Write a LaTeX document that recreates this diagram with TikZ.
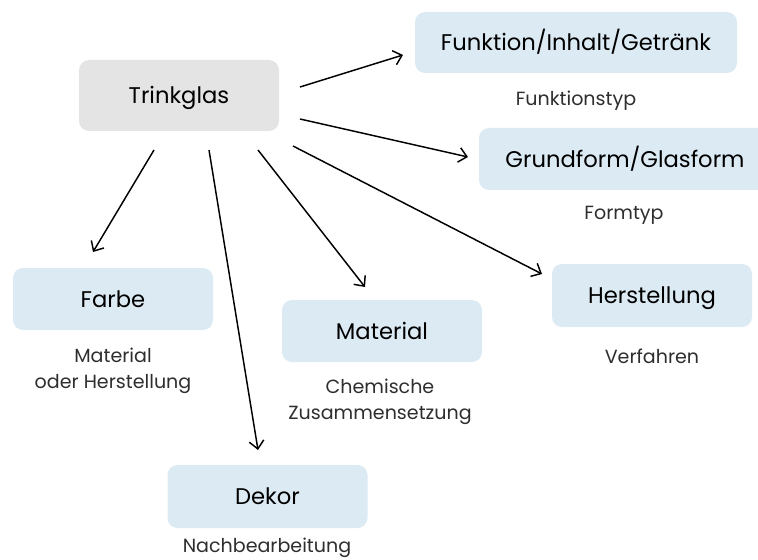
\documentclass[tikz,border=0pt]{standalone}
\usepackage{fontspec}
\setmainfont{Poppins}
\usetikzlibrary{arrows.meta}
\definecolor{boxblue}{HTML}{DCEAF3}
\definecolor{boxgray}{HTML}{E4E4E4}
\definecolor{subtext}{HTML}{2E2E2E}
\tikzset{
  basebox/.style={rounded corners=7.5pt, inner sep=0pt, font=\fontsize{17}{20}\selectfont, text=black, text height=1.2em, text depth=0pt},
  bluebox/.style={basebox, fill=boxblue},
  graybox/.style={basebox, fill=boxgray},
  sublabel/.style={align=center, inner sep=0pt, font=\fontsize{14.3}{19.5}\selectfont, text=subtext},
  conn/.style={line width=1.1pt, -{Straight Barb[length=6pt, width=11pt, line width=1.1pt]}}
}
\begin{document}
\begin{tikzpicture}[x=0.75pt, y=-0.75pt]
\useasboundingbox (0,0) rectangle (758,560);
\clip (0,0) rectangle (758,560);
% boxes
\node[graybox, minimum width=150pt, minimum height=53.25pt] (trink) at (179,95.5) {Trinkglas};
\node[bluebox, minimum width=241.5pt, minimum height=45.75pt] (funk) at (576,42.5) {Funktion/Inhalt/Getränk};
\node[bluebox, minimum width=219pt, minimum height=46.5pt] (grund) at (625,159) {Grundform/Glasform};
\node[bluebox, minimum width=150pt, minimum height=46.5pt] (farbe) at (113,299) {Farbe};
\node[bluebox, minimum width=150pt, minimum height=47.25pt] (herst) at (652,295.5) {Herstellung};
\node[bluebox, minimum width=150pt, minimum height=46.5pt] (mat) at (382,331) {Material};
\node[bluebox, minimum width=150pt, minimum height=47.25pt] (dekor) at (267.5,496.5) {Dekor};
% labels
\node[sublabel] (funkl) at (576,101) {Funktionstyp};
\node[sublabel] (grundl) at (624,215) {Formtyp};
\node[sublabel] (farbel) at (113,371) {Material\\oder Herstellung};
\node[sublabel] (matl) at (380,402) {Chemische\\Zusammensetzung};
\node[sublabel] (herstl) at (652,356) {Verfahren};
\node[sublabel] (dekorl) at (267,548) {Nachbearbeitung};
% connector ends
\coordinate (s1) at (300,87);  \coordinate (e1) at (403,55);
\coordinate (s2) at (300,119); \coordinate (e2) at (468,157);
\coordinate (s3) at (154,150); \coordinate (e3) at (93,252);
\coordinate (s4) at (209,150); \coordinate (e4) at (258,450);
\coordinate (s5) at (258,150); \coordinate (e5) at (365,287);
\coordinate (s6) at (293,146); \coordinate (e6) at (542,274);
\draw[conn] (s1) -- (e1);
\draw[conn] (s2) -- (e2);
\draw[conn] (s3) -- (e3);
\draw[conn] (s4) -- (e4);
\draw[conn] (s5) -- (e5);
\draw[conn] (s6) -- (e6);
\end{tikzpicture}
\end{document}
